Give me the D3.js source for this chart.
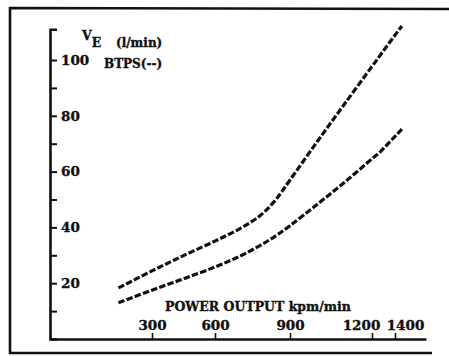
<!DOCTYPE html>
<html>
<head>
<meta charset="utf-8">
<script src="https://cdn.jsdelivr.net/npm/d3@7"></script>
<style>
  body { margin: 0; background: #fff; }
  svg text { font-family: "DejaVu Serif", "Liberation Serif", serif; font-weight: bold; fill: #111; stroke: #111; stroke-width: 0.35px; }
</style>
</head>
<body>
<div id="chart"></div>
<script>
// power output (kpm/min) and ventilation (l/min BTPS)
const power = [140, 300, 450, 600, 700, 780, 840, 900, 1000, 1100, 1200, 1270, 1330, 1400, 1460];
const upperVE = [18.3, 24.4, 29.9, 35.1, 39.6, 44.2, 49.6, 57.0, 70.8, 84.3, 97.7, 101.6, 105, 108.9, 112.2];
const lowerVE = [13.0, 17.5, 21.6, 25.8, 29.7, 33.5, 36.8, 40.6, 48.3, 56.2, 64.6, 67.0, 69.6, 72.6, 75.2];

const xTicks = [300, 600, 900, 1200, 1400];
const yTicks = [10, 20, 30, 40, 50, 60, 70, 80, 90, 100];
const yLabels = [20, 40, 60, 80, 100];

const width = 449, height = 356;

const svg = d3.select("#chart")
  .append("svg")
  .attr("width", width)
  .attr("height", height);

// outer frame (left, top, bottom, no right side)
svg.append("path")
  .attr("d", "M449,9 L10,8 L10,353 L432,353")
  .style("stroke", "#111")
  .style("stroke-width", "2.6px")
  .style("fill", "none");

// hand drawn axis: the kpm/min spacing is uneven on the original
const scaleX = d3.scaleLinear()
  .domain([-186, 300, 600, 900, 1200, 1400, 1670])
  .range([50, 152, 215, 290, 372, 395, 426]);

const scaleY = d3.scaleLinear()
  .domain([0, 111])
  .range([339, 339 - 111 * 2.79]);

// y axis
const yAxis = d3.axisRight(scaleY)
  .tickValues(yTicks)
  .tickSize(7)
  .tickSizeOuter(7)
  .tickPadding(4)
  .tickFormat(d => yLabels.includes(d) ? d : "");

const ya = svg.append("g")
  .attr("id", "y-axis")
  .attr("transform", "translate(50,0)")
  .call(yAxis);

ya.select(".domain").style("stroke", "#111").style("stroke-width", "2.6px");
ya.selectAll(".tick line").style("stroke", "#111").style("stroke-width", "2px");
ya.selectAll(".tick text")
  .style("font-size", "13.5px")
  .style("font-family", "DejaVu Serif")
  .style("font-weight", "bold")
  .style("fill", "#111");

// x axis, ticks point up and labels sit above the line
const xAxis = d3.axisBottom(scaleX)
  .tickValues(xTicks)
  .tickSize(-6)
  .tickSizeOuter(0)
  .tickFormat(d3.format("d"));

const xa = svg.append("g")
  .attr("id", "x-axis")
  .attr("transform", "translate(0,339)")
  .call(xAxis);

const labelShift = { 1200: -11, 1400: 10 };

xa.select(".domain").style("stroke", "#111").style("stroke-width", "2.6px");
xa.selectAll(".tick line").style("stroke", "#111").style("stroke-width", "1.6px");
xa.selectAll(".tick text")
  .attr("y", -9)
  .attr("dy", 0)
  .attr("dx", d => labelShift[d] || 0)
  .style("font-size", "13.5px")
  .style("font-family", "DejaVu Serif")
  .style("font-weight", "bold")
  .style("fill", "#111");

// curves
const line = d3.line()
  .x(d => scaleX(d[0]))
  .y(d => scaleY(d[1]))
  .curve(d3.curveCatmullRom);

[upperVE, lowerVE].forEach(series => {
  svg.append("path")
    .datum(power.map((p, i) => [p, series[i]]))
    .attr("d", line)
    .style("fill", "none")
    .style("stroke", "#111")
    .style("stroke-width", "3.2px")
    .style("stroke-dasharray", "6.5,2.2");
});

// titles
const t = svg.append("text").attr("x", 82).attr("y", 40).style("font-size", "12.5px");
t.append("tspan").text("V");
t.append("tspan").attr("dy", 7).text("E");

svg.append("text")
  .attr("x", 116).attr("y", 47)
  .style("font-size", "12px")
  .text("(l/min)");

svg.append("text")
  .attr("x", 104).attr("y", 68)
  .style("font-size", "12px")
  .text("BTPS(--)");

svg.append("text")
  .attr("x", 165).attr("y", 311)
  .style("font-size", "12.5px")
  .text("POWER OUTPUT kpm/min");
</script>
</body>
</html>
